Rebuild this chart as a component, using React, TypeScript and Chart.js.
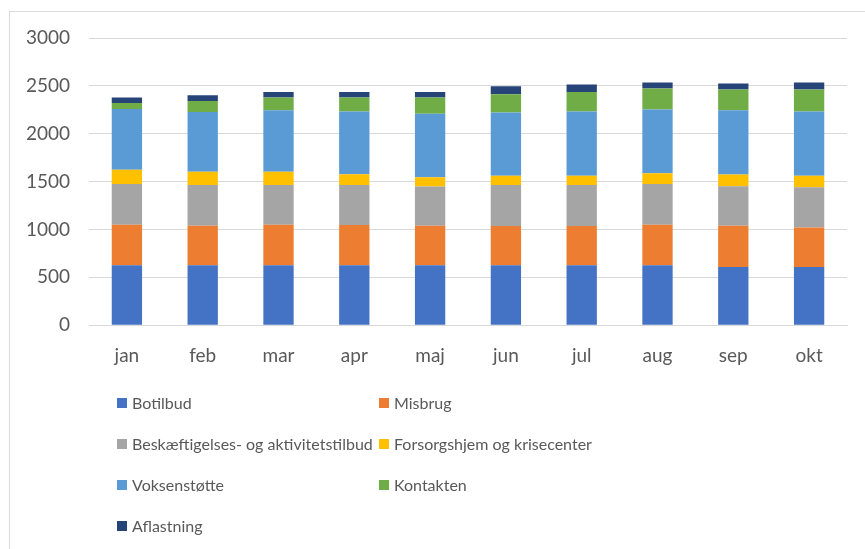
import React, { useEffect, useRef } from "react";
import { Chart, registerables } from "chart.js";

Chart.register(...registerables);

const categories = ["jan", "feb", "mar", "apr", "maj", "jun", "jul", "aug", "sep", "okt"];
const seriesNames = [
  "Botilbud",
  "Misbrug",
  "Beskæftigelses- og aktivitetstilbud",
  "Forsorgshjem og krisecenter",
  "Voksenstøtte",
  "Kontakten",
  "Aflastning",
];
const botilbud = [626, 626, 626, 626, 626, 626, 626, 626, 608, 608];
const misbrug = [423, 412, 423, 420, 412, 409, 409, 423, 430, 413];
const beskaeftigelse = [427, 427, 416, 419, 410, 430, 430, 427, 413, 419];
const forsorgshjem = [147, 137, 137, 112, 97, 95, 95, 111, 122, 120];
const voksenstoette = [635, 625, 643, 654, 665, 661, 671, 665, 672, 671];
const kontakten = [63, 115, 133, 147, 168, 192, 206, 220, 217, 231];
const aflastning = [57, 60, 59, 59, 59, 84, 77, 63, 63, 73];
const yTicks = [0, 500, 1000, 1500, 2000, 2500, 3000];

const colors = ["#4472C4", "#ED7D31", "#A5A5A5", "#FFC000", "#5B9BD5", "#70AD47", "#264478"];
const seriesValues = [botilbud, misbrug, beskaeftigelse, forsorgshjem, voksenstoette, kontakten, aflastning];

const FONT = "Lato, 'Open Sans', sans-serif";
const TEXT = "#595959";
const GRID = "#d9d9d9";

export default function App() {
  const ref = useRef<HTMLCanvasElement | null>(null);

  useEffect(() => {
    if (!ref.current) return;
    const chart = new Chart(ref.current, {
      type: "bar",
      data: {
        labels: categories,
        datasets: seriesNames.map((name, i) => ({
          label: name,
          data: seriesValues[i],
          backgroundColor: colors[i],
          borderWidth: 0,
          barPercentage: 0.4,
          categoryPercentage: 1,
        })),
      },
      options: {
        animation: false,
        responsive: false,
        maintainAspectRatio: false,
        layout: { padding: { top: 38, right: 18, bottom: 5, left: 0 } },
        plugins: { legend: { display: false }, tooltip: { enabled: false } },
        scales: {
          x: {
            stacked: true,
            grid: { display: false, drawTicks: false },
            border: { color: GRID, width: 1 },
            ticks: { color: TEXT, font: { family: FONT, size: 19 }, padding: 19 },
          },
          y: {
            stacked: true,
            min: 0,
            max: 3000,
            afterBuildTicks: (s: any) => {
              s.ticks = yTicks.map((v) => ({ value: v }));
            },
            afterFit: (s: any) => {
              s.width = 89;
            },
            grid: { color: GRID, lineWidth: 1, drawTicks: false },
            border: { display: false },
            ticks: {
              color: TEXT,
              font: { family: FONT, size: 19 },
              padding: 19,
              callback: (v: any) => String(v),
            },
          },
        },
      },
    });
    return () => chart.destroy();
  }, []);

  return (
    <div
      style={{
        position: "absolute",
        left: 0,
        top: 0,
        width: 865,
        height: 549,
        background: "#fff",
        overflow: "hidden",
        fontFamily: FONT,
      }}
    >
      <div
        style={{
          position: "absolute",
          left: 9,
          top: 11,
          right: 0,
          bottom: -2,
          borderLeft: `1px solid ${GRID}`,
          borderTop: `1px solid ${GRID}`,
        }}
      />
      <canvas ref={ref} width={865} height={391} style={{ position: "absolute", left: 0, top: 0, width: 865, height: 391 }} />
      <div
        style={{
          position: "absolute",
          left: 117,
          top: 382,
          display: "grid",
          gridTemplateColumns: "262px 262px",
          gridAutoRows: "41px",
        }}
      >
        {seriesNames.map((name, i) => (
          <div key={name} style={{ display: "flex", alignItems: "center", whiteSpace: "nowrap" }}>
            <span style={{ display: "inline-block", width: 10, height: 10, background: colors[i], marginRight: 5 }} />
            <span style={{ fontSize: 16, color: TEXT }}>{name}</span>
          </div>
        ))}
      </div>
    </div>
  );
}
